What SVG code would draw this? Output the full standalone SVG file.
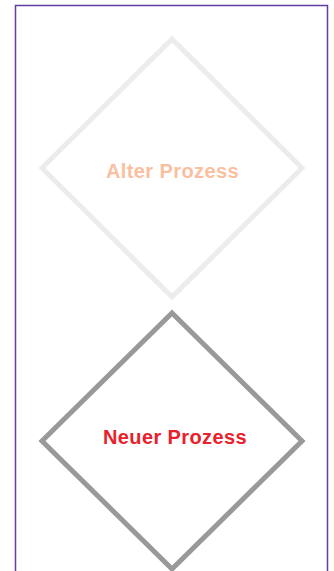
<svg xmlns="http://www.w3.org/2000/svg" width="334" height="571" viewBox="0 0 334 571">
<style>
.frame{fill:#fff;stroke:#5f3ea0;stroke-width:1.5}
.d{fill:none;stroke-width:5;stroke-linejoin:miter}
.lbl{font-family:"Liberation Sans",Arial,sans-serif;font-weight:bold;font-size:20px;letter-spacing:0.4px;text-anchor:middle}
</style>
<rect class="frame" x="15.5" y="5.5" width="312" height="580"/>
<g id="alter">
<polygon class="d" stroke="#ececec" points="172,39 302,168 172,297 42,168"/>
<text class="lbl" x="172.5" y="178" fill="#f9bf9f">Alter Prozess</text>
</g>
<g id="neuer">
<polygon class="d" stroke="#999999" points="172,313 302,441 172,569 42,441"/>
<text class="lbl" x="175" y="443.5" fill="#e8212c">Neuer Prozess</text>
</g>
<g id="connectors"></g>
</svg>
